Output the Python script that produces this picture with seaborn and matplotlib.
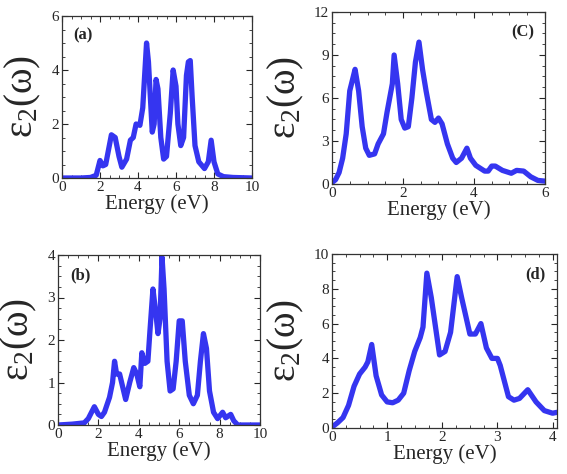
import numpy as np
import pandas as pd
import matplotlib
matplotlib.use("Agg")
import matplotlib.pyplot as plt
from matplotlib.ticker import AutoMinorLocator
import seaborn as sns

# panel (a)
a_energy = [0, 1.0, 1.5, 1.8, 2.0, 2.15, 2.3, 2.6, 2.8, 3.0, 3.15, 3.4, 3.6, 3.75, 3.9, 4.1, 4.25,
            4.45, 4.55, 4.75, 4.85, 4.95, 5.05, 5.2, 5.35, 5.5, 5.7, 5.85, 6.0, 6.1, 6.25, 6.4,
            6.55, 6.65, 6.75, 6.85, 7.0, 7.2, 7.5, 7.7, 7.85, 8.0, 8.2, 8.5, 9.0, 10.0]
a_eps = [0, 0, 0.02, 0.1, 0.65, 0.45, 0.5, 1.6, 1.5, 0.8, 0.4, 0.7, 1.4, 1.5, 2.0, 1.95, 2.6,
         5.0, 4.3, 1.7, 2.0, 3.65, 3.3, 1.5, 0.7, 0.8, 2.4, 4.0, 3.4, 2.0, 1.2, 1.5,
         3.8, 4.3, 4.35, 3.0, 1.2, 0.6, 0.35, 0.6, 1.4, 0.6, 0.15, 0.05, 0.02, 0]

# panel (b)
b_energy = [0, 0.7, 1.3, 1.5, 1.8, 2.0, 2.15, 2.3, 2.55, 2.7, 2.8, 2.9, 3.05, 3.2, 3.35, 3.55,
            3.75, 3.9, 4.05, 4.15, 4.3, 4.45, 4.55, 4.7, 4.85, 4.95, 5.05, 5.15, 5.25, 5.4,
            5.55, 5.7, 5.85, 6.0, 6.15, 6.3, 6.5, 6.7, 6.9, 7.05, 7.2, 7.35, 7.5, 7.7, 7.9,
            8.15, 8.3, 8.55, 8.7, 8.9, 10.0]
b_eps = [0, 0.02, 0.05, 0.15, 0.43, 0.25, 0.2, 0.3, 0.65, 1.0, 1.5, 1.2, 1.2, 0.9, 0.6, 1.0,
         1.35, 1.2, 0.9, 1.7, 1.45, 1.5, 2.2, 3.2, 2.6, 2.15, 2.5, 3.95, 3.2, 1.5,
         0.8, 0.85, 1.5, 2.45, 2.45, 1.5, 0.7, 0.5, 0.7, 1.5, 2.15, 1.8, 0.8, 0.3, 0.15,
         0.3, 0.17, 0.25, 0.1, 0.0, 0]

# panel (C)
c_energy = [0, 0.1, 0.2, 0.3, 0.4, 0.5, 0.6, 0.65, 0.75, 0.85, 0.95, 1.05, 1.2, 1.3, 1.45,
            1.55, 1.7, 1.75, 1.85, 1.95, 2.05, 2.15, 2.25, 2.35, 2.45, 2.55, 2.65, 2.8, 2.9,
            3.0, 3.1, 3.25, 3.4, 3.5, 3.65, 3.8, 3.9, 4.05, 4.3, 4.4, 4.5, 4.6, 4.8, 5.05,
            5.2, 5.4, 5.6, 5.8, 6.0]
c_eps = [0.1, 0.3, 0.8, 1.8, 3.5, 6.5, 7.5, 8.0, 6.5, 4.0, 2.5, 2.0, 2.1, 2.8, 3.5,
         5.0, 7.0, 9.0, 7.0, 4.5, 3.9, 4.0, 6.0, 8.5, 9.9, 8.0, 6.5, 4.5, 4.3,
         4.6, 4.2, 2.8, 1.8, 1.5, 1.8, 2.5, 1.8, 1.3, 0.9, 0.9, 1.25, 1.25, 0.95, 0.75,
         0.95, 0.9, 0.5, 0.25, 0.2]

# panel (d)
d_energy = [0, 0.1, 0.2, 0.3, 0.4, 0.5, 0.6, 0.65, 0.72, 0.8, 0.9, 1.0, 1.1, 1.2, 1.3, 1.4,
            1.5, 1.6, 1.65, 1.72, 1.8, 1.95, 2.05, 2.15, 2.27, 2.35, 2.5, 2.6, 2.7, 2.8, 2.9,
            3.0, 3.05, 3.2, 3.3, 3.4, 3.55, 3.7, 3.85, 4.0, 4.08]
d_eps = [0.05, 0.3, 0.6, 1.3, 2.4, 3.1, 3.5, 3.8, 4.8, 3.0, 1.9, 1.5, 1.45, 1.6, 2.0, 3.3,
         4.4, 5.2, 5.8, 8.9, 7.5, 4.2, 4.4, 5.5, 8.7, 7.5, 5.4, 5.4, 6.0, 4.6, 4.0,
         4.0, 3.6, 1.8, 1.6, 1.7, 2.2, 1.5, 1.0, 0.85, 0.9]

sns.set_theme(style="ticks")
plt.rcParams['font.family'] = ['Liberation Serif', 'DejaVu Serif']
plt.rcParams['mathtext.fontset'] = 'stix'
plt.rcParams['mathtext.default'] = 'regular'

fig = plt.figure(figsize=(5.67, 4.74), dpi=100)
W, H = 567, 474

def make_ax(x0, x1, y0, y1):
    return fig.add_axes([x0 / W, 1 - y1 / H, (x1 - x0) / W, (y1 - y0) / H])

panels = [
    # energy, eps, box px, xlim, ylim, xticks, yticks, tag, tag pos
    (a_energy, a_eps, (62, 252, 16, 178), (0, 10), (0, 6), [0, 2, 4, 6, 8, 10], [0, 2, 4, 6], "(a)", (0.06, 0.93), "left"),
    (c_energy, c_eps, (332, 545, 12, 184), (0, 6), (0, 12), [0, 2, 4, 6], [0, 3, 6, 9, 12], "(C)", (0.95, 0.93), "right"),
    (b_energy, b_eps, (58, 260, 255, 425), (0, 10), (0, 4), [0, 2, 4, 6, 8, 10], [0, 1, 2, 3, 4], "(b)", (0.06, 0.93), "left"),
    (d_energy, d_eps, (332, 557, 254, 428), (0, 4.08), (0, 10), [0, 1, 2, 3, 4], [0, 2, 4, 6, 8, 10], "(d)", (0.95, 0.93), "right"),
]

for energy, eps, box, xlim, ylim, xt, yt, tag, tpos, ha in panels:
    ax = make_ax(*box)
    df = pd.DataFrame({"Energy": energy, "eps": eps})
    sns.lineplot(data=df, x="Energy", y="eps", ax=ax, color="#3535f0", linewidth=3.8, sort=False)
    ax.set_xlim(*xlim)
    ax.set_ylim(*ylim)
    ax.set_xticks(xt)
    ax.set_yticks(yt)
    ax.xaxis.set_minor_locator(AutoMinorLocator(4))
    ax.yaxis.set_minor_locator(AutoMinorLocator(4))
    ax.tick_params(which="both", direction="in", top=True, right=True, labelsize=11, pad=2)
    ax.tick_params(which="major", length=4, width=0.8)
    ax.tick_params(which="minor", length=2, width=0.6)
    for s in ax.spines.values():
        s.set_linewidth(0.9)
        s.set_color("#333333")
    ax.set_xlabel("Energy (eV)", fontsize=15, labelpad=0)
    ax.set_ylabel("ε$_2$(ω)", fontsize=28, labelpad=6)
    ax.text(tpos[0], tpos[1], tag, transform=ax.transAxes, ha=ha, va="top",
            fontsize=12, fontweight="bold")

fig.savefig("out.png", dpi=100)
